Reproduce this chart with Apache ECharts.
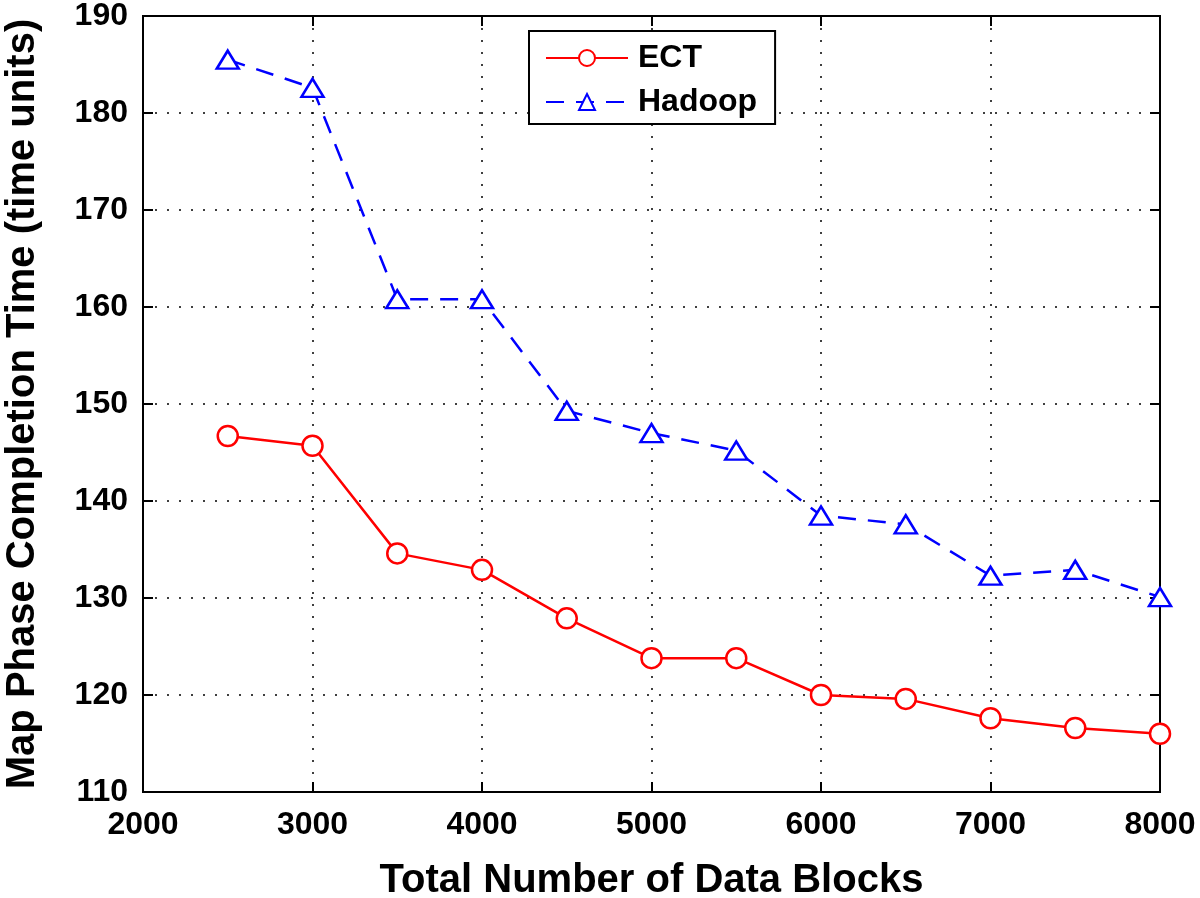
<!DOCTYPE html>
<html><head><meta charset="utf-8">
<script src="https://cdn.jsdelivr.net/npm/echarts@6/dist/echarts.min.js"></script>
<style>html,body{margin:0;padding:0;background:#fff}#c{width:1200px;height:898px}</style>
</head><body><div id="c"></div>
<script>
const blocks = [2500,3000,3500,4000,4500,5000,5500,6000,6500,7000,7500,8000];
const ect = [146.7,145.7,134.6,132.9,127.9,123.8,123.8,120.0,119.6,117.6,116.6,116.0];
const hadoop = [185.5,182.6,160.8,160.8,149.3,147.0,145.2,138.5,137.6,132.3,132.9,130.1];
const xTicks = [2000,3000,4000,5000,6000,7000,8000];
const yTicks = [110,120,130,140,150,160,170,180,190];

const font = 'Liberation Sans, Arial, Helvetica, sans-serif';
const chart = echarts.init(document.getElementById('c'));
const pair = (xs, ys) => xs.map((x,i)=>[x, ys[i]]);
const tickStyle = {show:true,inside:true,length:10,lineStyle:{color:'#000',width:2}};
const lineSty = {show:true,lineStyle:{color:'#000',width:2}};
chart.setOption({
  animation:false,
  backgroundColor:'#fff',
  grid:{left:143,right:40,top:16,bottom:106,containLabel:false,outerBoundsMode:'none',
    show:true,borderColor:'#000',borderWidth:2,backgroundColor:'transparent'},
  legend:{
    orient:'vertical', left:529, top:31, itemWidth:82, itemHeight:20, itemGap:8,
    borderColor:'#000', borderWidth:2, padding:[9,18,4,16], backgroundColor:'#fff',
    textStyle:{fontFamily:font,fontWeight:'bold',fontSize:32,lineHeight:36,color:'#000',padding:[0,0,0,5]},
    data:['ECT','Hadoop']
  },
  xAxis:[{type:'value',min:xTicks[0],max:xTicks[xTicks.length-1],interval:1000,
    name:'Total Number of Data Blocks',nameLocation:'middle',nameGap:69,
    nameTextStyle:{fontFamily:font,fontWeight:'bold',fontSize:40,color:'#000'},
    axisLine:lineSty, axisTick:tickStyle,
    axisLabel:{fontFamily:font,fontWeight:'bold',fontSize:32,color:'#000',margin:17,formatter:v=>String(v)},
    splitLine:{show:true,lineStyle:{color:'#000',width:1.5,type:[2,10]}}
  },{type:'value',position:'top',min:xTicks[0],max:xTicks[xTicks.length-1],interval:1000,
    axisLine:lineSty, axisTick:tickStyle, axisLabel:{show:false}, splitLine:{show:false}}],
  yAxis:[{type:'value',min:yTicks[0],max:yTicks[yTicks.length-1],interval:10,
    name:'Map Phase Completion Time (time units)',nameLocation:'middle',nameGap:100,
    nameTextStyle:{fontFamily:font,fontWeight:'bold',fontSize:40,color:'#000'},
    axisLine:lineSty, axisTick:tickStyle,
    axisLabel:{fontFamily:font,fontWeight:'bold',fontSize:32,color:'#000',margin:15},
    splitLine:{show:true,lineStyle:{color:'#000',width:1.5,type:[2,10]}}
  },{type:'value',position:'right',min:yTicks[0],max:yTicks[yTicks.length-1],interval:10,
    axisLine:lineSty, axisTick:tickStyle, axisLabel:{show:false}, splitLine:{show:false}}],
  series:[
    {name:'ECT',type:'line',data:pair(blocks,ect),symbol:'circle',symbolSize:20,showAllSymbol:true,
      lineStyle:{color:'#f00',width:2.5},itemStyle:{color:'#fff',borderColor:'#f00',borderWidth:2.5},color:'#f00'},
    {name:'Hadoop',type:'line',data:pair(blocks,hadoop),symbol:'triangle',symbolSize:[22,18],showAllSymbol:true,
      lineStyle:{color:'#00f',width:2.5,type:[18,12]},itemStyle:{color:'#fff',borderColor:'#00f',borderWidth:2.5},color:'#00f'}
  ]
});
</script></body></html>
